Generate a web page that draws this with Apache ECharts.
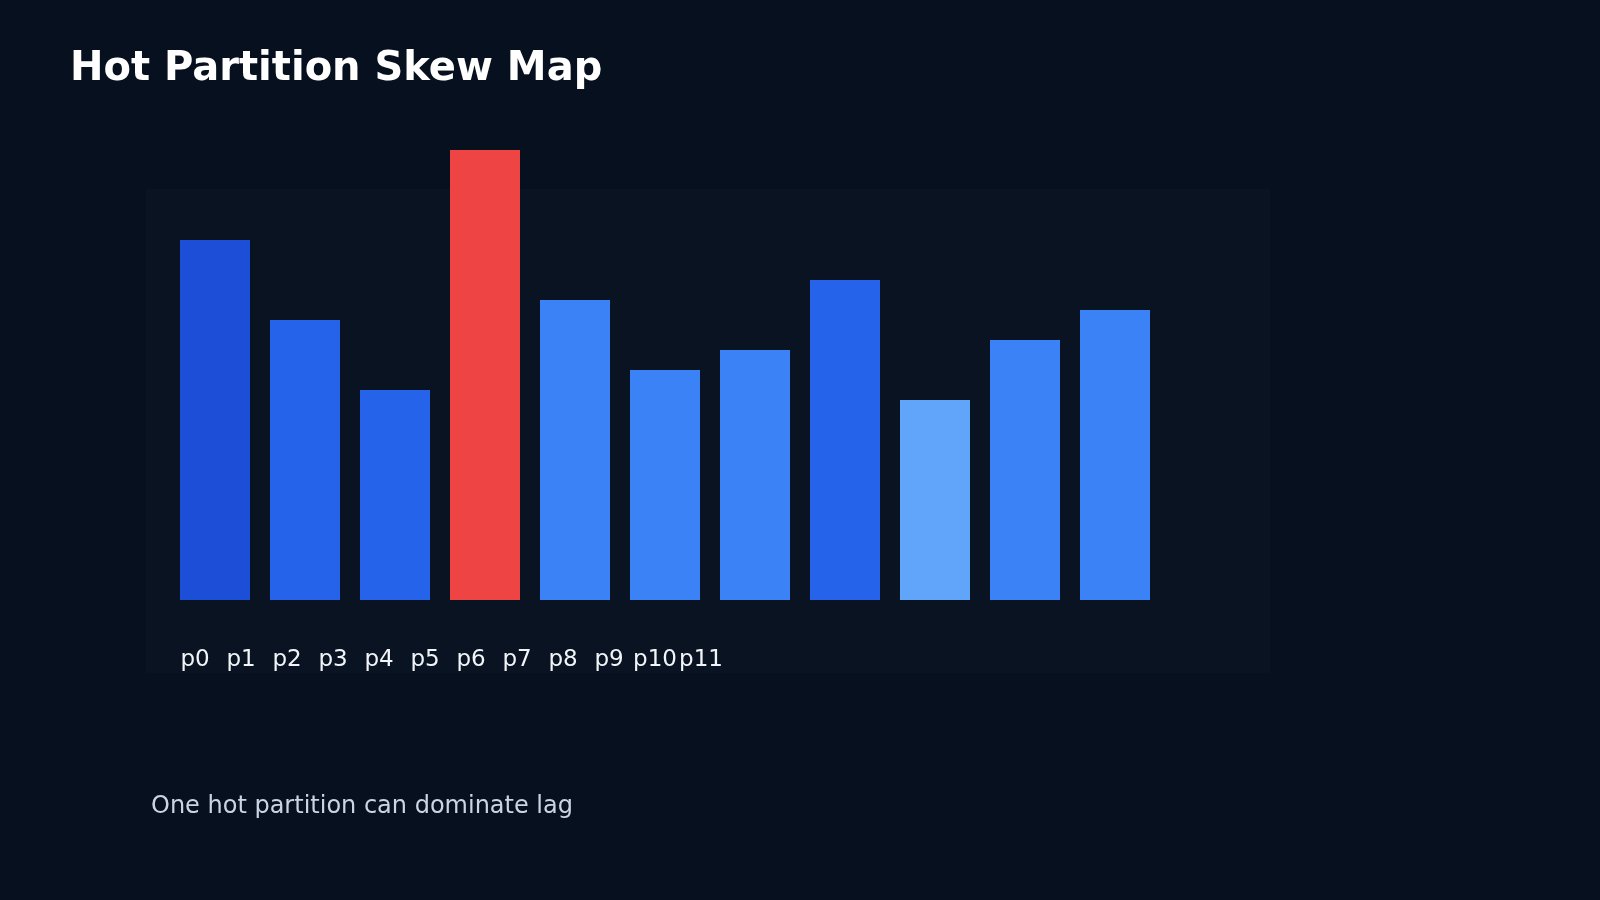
<!DOCTYPE html>
<html>
<head>
  <meta charset="utf-8">
  <title>Hot Partition Skew Map</title>
  <script src="https://fastly.jsdelivr.net/npm/echarts@6/dist/echarts.min.js"></script>
  <style>
    html, body { margin: 0; padding: 0; background: #07101f; }
    #chart { width: 1600px; height: 900px; }
  </style>
</head>
<body>
<div id="chart"></div>
<script type="text/javascript">
  // partitions and their lag (p11 has no bar in the picture)
  const partitions = ['p0', 'p1', 'p2', 'p3', 'p4', 'p5', 'p6', 'p7', 'p8', 'p9', 'p10', 'p11'];
  const lag = [36, 28, 21, 45, 30, 23, 25, 32, 20, 26, 29];
  const barColors = ['#1d4ed8', '#2563eb', '#2563eb', '#ef4444', '#3b82f6', '#3b82f6',
                     '#3b82f6', '#2563eb', '#60a5fa', '#3b82f6', '#3b82f6'];

  const font = 'DejaVu Sans';
  var myChart = echarts.init(document.getElementById('chart'));

  var option = {
    backgroundColor: '#07101f',
    textStyle: { fontFamily: font },
    title: [
      {
        text: 'Hot Partition Skew Map',
        left: 65,
        top: 45,
        textStyle: { color: '#ffffff', fontSize: 40, fontWeight: 'bold', fontFamily: font }
      },
      {
        text: 'One hot partition can dominate lag',
        left: 146,
        top: 790,
        textStyle: { color: '#cbd5e1', fontSize: 24, fontWeight: 'normal', fontFamily: font }
      }
    ],
    graphic: [
      {
        type: 'rect',
        z: -10,
        shape: { x: 146, y: 189, width: 1124, height: 484 },
        style: { fill: '#0a1321' }
      }
    ],
    grid: [
      { left: 170, width: 1080, top: 100, height: 500 },
      { left: 172, width: 552, top: 630, height: 10 }
    ],
    xAxis: [
      {
        type: 'category',
        gridIndex: 0,
        data: partitions,
        axisLine: { show: false },
        axisTick: { show: false },
        axisLabel: { show: false }
      },
      {
        type: 'category',
        gridIndex: 1,
        data: partitions,
        axisLine: { show: false },
        axisTick: { show: false },
        axisLabel: { color: '#f1f5f9', fontSize: 23, margin: 9, interval: 0, fontFamily: font }
      }
    ],
    yAxis: [
      { type: 'value', gridIndex: 0, min: 0, max: 50, show: false },
      { type: 'value', gridIndex: 1, show: false }
    ],
    series: [
      {
        type: 'bar',
        xAxisIndex: 0,
        yAxisIndex: 0,
        barWidth: 70,
        data: lag,
        itemStyle: {
          color: function (p) { return barColors[p.dataIndex]; }
        }
      }
    ]
  };

  myChart.setOption(option);
</script>
</body>
</html>
